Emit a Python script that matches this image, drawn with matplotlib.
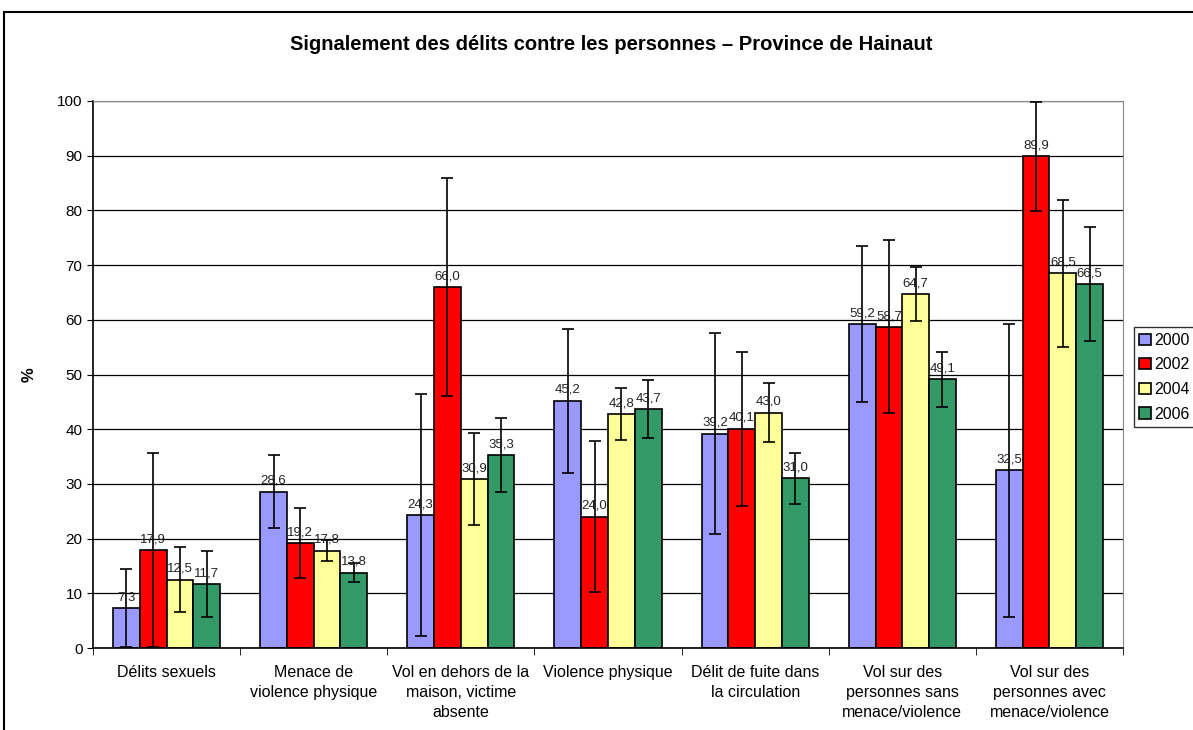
# Bar chart with error bars: reported offences against persons, Hainaut
import numpy as np
import matplotlib
matplotlib.use("Agg")
import matplotlib.pyplot as plt
from matplotlib.patches import Rectangle

plt.rcParams['font.family'] = ['Liberation Sans', 'DejaVu Sans']

# data
categories = ["Délits sexuels", "Menace de\nviolence physique",
              "Vol en dehors de la\nmaison, victime\nabsente", "Violence physique",
              "Délit de fuite dans\nla circulation", "Vol sur des\npersonnes sans\nmenace/violence",
              "Vol sur des\npersonnes avec\nmenace/violence"]
years = ["2000", "2002", "2004", "2006"]
v2000 = [7.3, 28.6, 24.3, 45.2, 39.2, 59.2, 32.5]
v2002 = [17.9, 19.2, 66.0, 24.0, 40.1, 58.7, 89.9]
v2004 = [12.5, 17.8, 30.9, 42.8, 43.0, 64.7, 68.5]
v2006 = [11.7, 13.8, 35.3, 43.7, 31.0, 49.1, 66.5]
e2000 = [7.2, 6.7, 22.1, 13.2, 18.4, 14.3, 26.8]
e2002 = [17.8, 6.4, 20.0, 13.8, 14.1, 15.8, 10.0]
e2004 = [5.9, 1.9, 8.4, 4.8, 5.4, 5.0, 13.4]
e2006 = [6.0, 1.7, 6.7, 5.3, 4.6, 5.1, 10.4]
colors = ["#9999FF", "#FF0000", "#FFFF99", "#339966"]

values = [v2000, v2002, v2004, v2006]
errors = [e2000, e2002, e2004, e2006]

fig = plt.figure(figsize=(11.93, 7.30), dpi=100)
ax = fig.add_axes([93/1193, 1 - 648/730, (1123-93)/1193, (648-101)/730])

x = np.arange(len(categories))
w = 0.182
for i, (vals, errs) in enumerate(zip(values, errors)):
    pos = x + (i - 1.5) * w
    ax.bar(pos, vals, w, color=colors[i], edgecolor="black", linewidth=1.2,
           label=years[i], zorder=2)
    ax.errorbar(pos, vals, yerr=errs, fmt="none", ecolor="black", elinewidth=1.2,
                capsize=4, capthick=1.2, zorder=3)
    for px, v in zip(pos, vals):
        ax.annotate(f"{v:.1f}".replace(".", ","), (px, v), xytext=(0, 3.5),
                    textcoords="offset points", ha="center", va="bottom",
                    fontsize=9.5, color="#222222", zorder=4)

ax.set_xlim(-0.5, len(categories) - 0.5)
ax.set_ylim(0, 100)
ax.set_yticks(np.arange(0, 101, 10))
ax.tick_params(axis="y", labelsize=11, length=4, direction="out")
ax.set_xticks(x)
ax.set_xticklabels(categories, fontsize=11.5, linespacing=1.42)
ax.tick_params(axis="x", length=0, pad=12)
ax.set_xticks(np.arange(-0.5, len(categories), 1), minor=True)
ax.tick_params(axis="x", which="minor", length=5, direction="out")
ax.yaxis.grid(True, color="black", linewidth=0.9, zorder=0)
ax.set_axisbelow(True)
for s in ["top", "right"]:
    ax.spines[s].set_color("#888888")
ax.spines["left"].set_linewidth(1.2)
ax.spines["bottom"].set_linewidth(1.2)

ax.set_ylabel("%", fontsize=12, fontweight="bold")
ax.yaxis.set_label_coords(-56/1030, 0.5)
fig.text(611.5/1193, 1 - 44/730, "Signalement des délits contre les personnes – Province de Hainaut",
         ha="center", va="center", fontsize=14.5, fontweight="bold")

leg = ax.legend(loc="center left", bbox_to_anchor=(1.0105, 0.495), fontsize=11.5,
                frameon=True, fancybox=False, edgecolor="black", borderpad=0.35,
                handlelength=0.7, handleheight=0.7, handletextpad=0.2, labelspacing=0.6,
                borderaxespad=0)
leg.get_frame().set_linewidth(1.0)

# outer chart border (runs off the right and bottom of the image)
fig.patches.append(Rectangle((4/1193, -0.1), 1.2, 1 - 12/730 + 0.1, transform=fig.transFigure,
                             fill=False, edgecolor="black", linewidth=1.5))

fig.savefig("out.png", dpi=100)
